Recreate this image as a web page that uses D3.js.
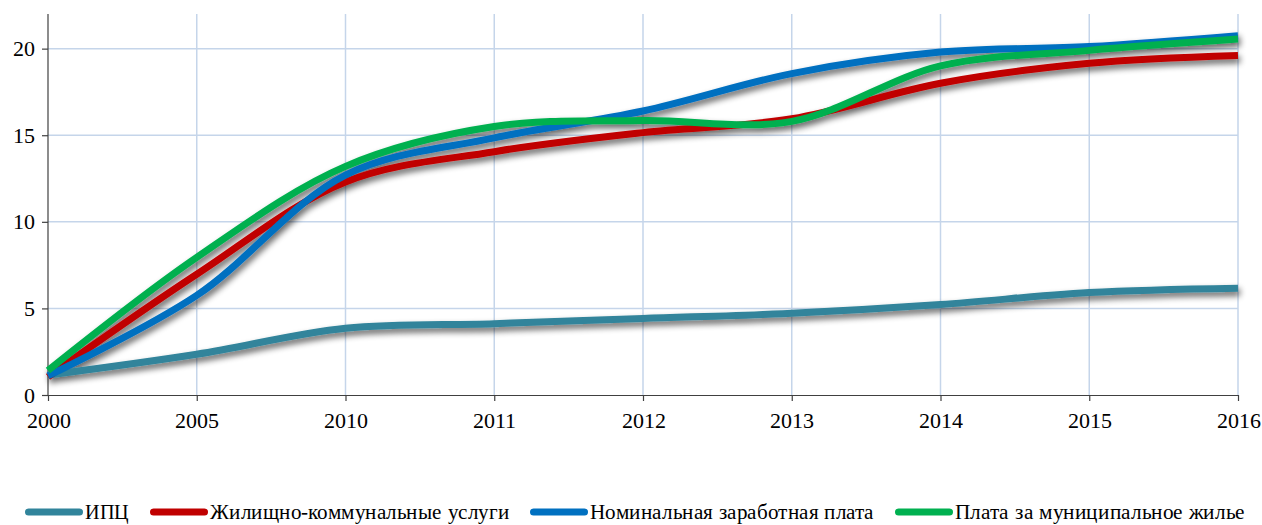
<!DOCTYPE html>
<html>
<head>
<meta charset="utf-8">
<script src="https://cdn.jsdelivr.net/npm/d3@7"></script>
<style>
  @font-face { font-family: "ChartSerif"; src: local("Liberation Serif"), local("LiberationSerif"), local("Times New Roman"); }
</style>
</head>
<body style="margin:0">
<svg id="chart" width="1262" height="525"></svg>
<script>
// Categories on the horizontal axis
const years = ["2000", "2005", "2010", "2011", "2012", "2013", "2014", "2015", "2016"];
const yTicks = [0, 5, 10, 15, 20];

// Series values
const ipc      = [1.15, 2.35, 3.85, 4.12, 4.42, 4.72, 5.22, 5.92, 6.17];
const housing  = [1.05, 6.97, 12.3, 14.05, 15.15, 15.95, 18.0, 19.15, 19.6];
const wages    = [1.1, 5.75, 12.7, 14.85, 16.4, 18.56, 19.8, 20.12, 20.75];
const rent     = [1.42, 7.95, 13.2, 15.5, 15.85, 15.8, 19.0, 19.9, 20.55];

const seriesNames  = ["ИПЦ", "Жилищно-коммунальные услуги", "Номинальная заработная плата", "Плата за муниципальное жилье"];
const seriesColors = ["#31849b", "#c00000", "#0070c0", "#00b050"];
const seriesValues = [ipc, housing, wages, rent];

// Legend label run lengths (the legend font is set wide)
const legendTextWidths = [44, 299, 284, 290];

const FONT = "ChartSerif, 'Liberation Serif', 'Times New Roman', serif";

const svg = d3.select("#chart").style("display", "block");
const margin = { left: 48, right: 24, top: 14, bottom: 130 };
const W = 1262, H = 525;
const plotW = W - margin.left - margin.right;
const plotH = H - margin.top - margin.bottom;

// Soft drop shadow under the series lines
const defs = svg.append("defs");
const shadow = defs.append("filter").attr("id", "shadow")
  .attr("x", "-5%").attr("y", "-20%").attr("width", "110%").attr("height", "150%");
shadow.append("feGaussianBlur").attr("in", "SourceAlpha").attr("stdDeviation", 3).attr("result", "blur");
shadow.append("feOffset").attr("in", "blur").attr("dx", 2).attr("dy", 4).attr("result", "off");
shadow.append("feComponentTransfer").attr("in", "off").attr("result", "shade")
  .append("feFuncA").attr("type", "linear").attr("slope", 0.6);
const merge = shadow.append("feMerge");
merge.append("feMergeNode").attr("in", "shade");
merge.append("feMergeNode").attr("in", "SourceGraphic");

const g = svg.append("g").attr("transform", `translate(${margin.left},${margin.top})`);

const x = d3.scalePoint().domain(years).range([0, plotW]);
const y = d3.scaleLinear().domain([0, 22]).range([plotH, 0]);

// Grid lines
const grid = g.append("g").attr("stroke", "#c5d5ea").attr("stroke-width", 1.5);
grid.selectAll("line.h").data(yTicks.filter(d => d > 0)).join("line")
  .attr("x1", 0).attr("x2", plotW)
  .attr("y1", d => y(d)).attr("y2", d => y(d));
grid.selectAll("line.v").data(years.slice(1)).join("line")
  .attr("x1", d => x(d)).attr("x2", d => x(d))
  .attr("y1", 0).attr("y2", plotH);

// Axes
const yAxis = g.append("g")
  .call(d3.axisLeft(y).tickValues(yTicks).tickSize(6).tickPadding(7));
const xAxis = g.append("g").attr("transform", `translate(0,${plotH})`)
  .call(d3.axisBottom(x).tickSize(6).tickPadding(11).tickSizeOuter(0));
[yAxis, xAxis].forEach(a => {
  a.attr("font-family", null).attr("font-size", null);
  a.select(".domain").attr("stroke", "#404040").attr("stroke-width", 1.2);
  a.selectAll(".tick line").attr("stroke", "#404040").attr("stroke-width", 1.2);
  a.selectAll("text")
    .style("font-family", FONT).style("font-size", "22px")
    .attr("fill", "#000");
});
yAxis.select(".domain").attr("d", `M0,${plotH}V0`);

// Series lines
const line = d3.line()
  .x((d, i) => x(years[i]))
  .y(d => y(d))
  .curve(d3.curveCatmullRom.alpha(0.5));

g.append("g").attr("filter", "url(#shadow)")
  .selectAll("path").data(seriesValues).join("path")
  .attr("d", line)
  .attr("fill", "none")
  .attr("stroke", (d, i) => seriesColors[i])
  .attr("stroke-width", 7)
  .attr("stroke-linecap", "butt")
  .attr("stroke-linejoin", "round");

// Legend
const legend = svg.append("g").attr("transform", "translate(0,512)");
const sampleLen = 58, textGap = 2, itemGap = 21;
const items = legend.selectAll("g").data(seriesNames).join("g");
items.append("line")
  .attr("x1", 3.5).attr("x2", sampleLen - 3.5).attr("y1", 0).attr("y2", 0)
  .attr("stroke", (d, i) => seriesColors[i])
  .attr("stroke-width", 7).attr("stroke-linecap", "round");
items.append("text")
  .attr("x", sampleLen + textGap).attr("y", 7)
  .attr("textLength", (d, i) => legendTextWidths[i])
  .attr("lengthAdjust", "spacingAndGlyphs")
  .style("font-family", FONT).style("font-size", "22px")
  .attr("fill", "#000")
  .text(d => d);
const widths = legendTextWidths.map(w => sampleLen + textGap + w);
const total = d3.sum(widths) + itemGap * (widths.length - 1);
let cx = (W - total) / 2 + 4;
items.attr("transform", (d, i) => {
  const t = `translate(${cx},0)`;
  cx += widths[i] + itemGap;
  return t;
});
</script>
</body>
</html>
